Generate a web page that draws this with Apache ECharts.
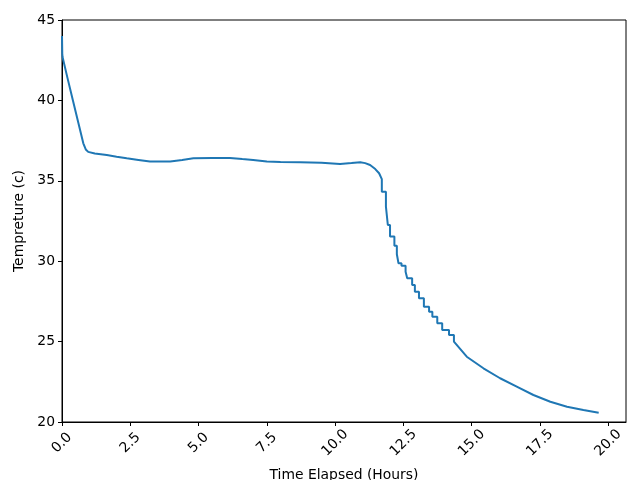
<!DOCTYPE html>
<html>
<head>
<meta charset="utf-8">
<script src="https://cdn.jsdelivr.net/npm/echarts@6/dist/echarts.min.js"></script>
<style>html,body{margin:0;padding:0;background:#fff}#c{width:640px;height:480px}</style>
</head>
<body>
<div id="c"></div>
<script>
var timeHours = [
  0.00, 0.01, 0.02, 0.20, 0.40, 0.60, 0.78, 0.87, 0.96, 1.20, 1.64, 2.00, 2.37, 2.80, 3.22, 3.96,
  4.40, 4.81, 5.50, 6.15, 6.60, 7.00, 7.50, 8.00, 8.72, 9.50, 10.18, 10.60, 10.92, 11.10, 11.28,
  11.34, 11.47, 11.61, 11.71, 11.71, 11.86, 11.86, 11.93, 11.93, 12.01, 12.01, 12.17, 12.17,
  12.26, 12.26, 12.32, 12.32, 12.43, 12.43, 12.58, 12.58, 12.64, 12.64, 12.82, 12.82, 12.92, 12.92,
  13.07, 13.07, 13.25, 13.25, 13.44, 13.44, 13.56, 13.56, 13.74, 13.74, 13.92, 13.92, 14.17, 14.17,
  14.35, 14.35, 14.82, 15.43, 16.04, 16.65, 17.26, 17.88, 18.49, 19.09, 19.65
];
var tempC = [
  44.0, 42.9, 42.7, 41.4, 40.0, 38.6, 37.33, 36.95, 36.8, 36.7, 36.6, 36.5, 36.4, 36.3, 36.2, 36.2,
  36.3, 36.4, 36.42, 36.42, 36.35, 36.3, 36.2, 36.17, 36.15, 36.12, 36.05, 36.1, 36.15, 36.1, 35.98,
  35.88, 35.73, 35.47, 35.1, 34.32, 34.32, 33.39, 33.39, 32.25, 32.25, 31.53, 31.53, 30.96,
  30.96, 30.43, 30.43, 29.87, 29.87, 29.72, 29.72, 29.35, 29.35, 28.94, 28.94, 28.52, 28.52, 28.10,
  28.10, 27.69, 27.69, 27.17, 27.17, 26.86, 26.86, 26.55, 26.55, 26.14, 26.14, 25.72, 25.72, 25.41,
  25.41, 25.0, 24.06, 23.34, 22.72, 22.2, 21.68, 21.26, 20.95, 20.75, 20.58
];
var xTicks = [0, 2.5, 5, 7.5, 10, 12.5, 15, 17.5, 20];
var yTicks = [20, 25, 30, 35, 40, 45];

var pts = timeHours.map(function (t, i) { return [t, tempC[i]]; });
var font = 'DejaVu Sans';
var chart = echarts.init(document.getElementById('c'));
chart.setOption({
  animation: false,
  grid: { left: 62, right: 14, top: 20, bottom: 58, containLabel: false, outerBoundsMode: 'none',
          show: true, borderColor: '#000', borderWidth: 1, backgroundColor: 'transparent' },
  xAxis: {
    type: 'value', min: 0, max: 20.65, interval: 2.5,
    name: 'Time Elapsed (Hours)', nameLocation: 'middle', nameGap: 46,
    nameTextStyle: { fontFamily: font, fontSize: 13.9, color: '#000' },
    axisLine: { show: true, lineStyle: { color: '#000', width: 1 } },
    axisTick: { show: true, inside: false, length: 4, lineStyle: { color: '#000' } },
    axisLabel: {
      rotate: 45, margin: 21, align: 'center', verticalAlign: 'middle',
      fontFamily: font, fontSize: 13.9, color: '#000',
      formatter: function (v) { return xTicks.indexOf(v) >= 0 ? v.toFixed(1) : ''; },
      showMaxLabel: false
    },
    splitLine: { show: false }
  },
  yAxis: {
    type: 'value', min: 20, max: 45, interval: 5,
    name: 'Tempreture (c)', nameLocation: 'middle', nameGap: 34,
    nameTextStyle: { fontFamily: font, fontSize: 13.9, color: '#000' },
    axisLine: { show: true, lineStyle: { color: '#000', width: 1 } },
    axisTick: { show: true, inside: false, length: 4, lineStyle: { color: '#000' } },
    axisLabel: {
      margin: 7, fontFamily: font, fontSize: 13.9, color: '#000',
      formatter: function (v) { return yTicks.indexOf(v) >= 0 ? String(v) : ''; }
    },
    splitLine: { show: false }
  },
  series: [{
    type: 'line', data: pts, showSymbol: false, symbol: 'none',
    lineStyle: { color: '#1f77b4', width: 2 }, smooth: false
  }]
});
</script>
</body>
</html>
